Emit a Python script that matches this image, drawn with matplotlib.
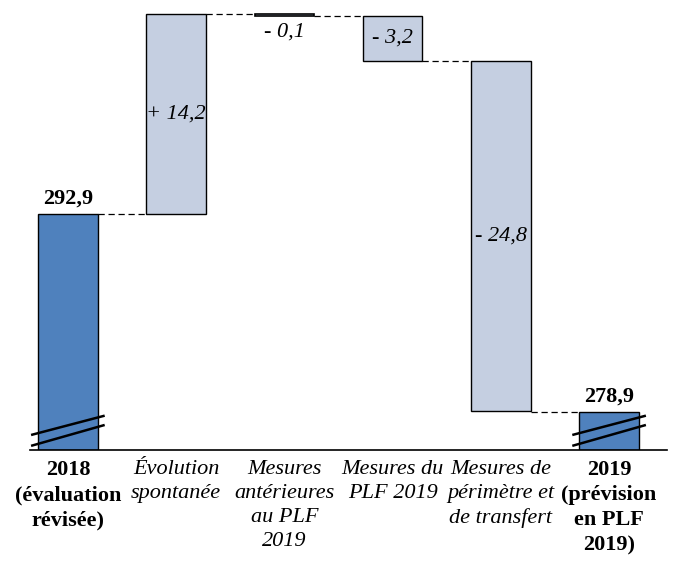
import matplotlib.pyplot as plt

categories = ["2018\n(évaluation\nrévisée)", "Évolution\nspontanée", "Mesures\nantérieures\nau PLF\n2019",
              "Mesures du\nPLF 2019", "Mesures de\npérimètre et\nde transfert", "2019\n(prévision\nen PLF\n2019)"]
start_value = 292.9
changes = [14.2, -0.1, -3.2, -24.8]
end_value = 278.9
change_labels = ["+ 14,2", "- 0,1", "- 3,2", "- 24,8"]
total_labels = ["292,9", "278,9"]

plt.rcParams['font.family'] = ['Liberation Serif', 'DejaVu Serif']

dark = "#4F81BD"
light = "#C5CFE1"
base = 276.2
w = 0.55
fs = 16

fig = plt.figure(figsize=(6.77, 5.69), dpi=100)
ax = fig.add_axes([30 / 677, 0.209, 637 / 677, 0.791])

# bars
bottoms = []
tops = []
level = start_value
ax.bar(0, start_value - base, bottom=base, width=w, color=dark, edgecolor="black", linewidth=1)
levels = [start_value]
for i, c in enumerate(changes):
    new = level + c
    lo, hi = min(level, new), max(level, new)
    lw = 1.2 if abs(c) < 1 else 1
    ax.bar(i + 1, hi - lo, bottom=lo, width=w, color=light, edgecolor="black", linewidth=lw)
    bottoms.append(lo)
    tops.append(hi)
    level = new
    levels.append(level)
ax.bar(5, end_value - base, bottom=base, width=w, color=dark, edgecolor="black", linewidth=1)
levels[-1] = end_value

# connectors
for i in range(5):
    ax.plot([i + w / 2, i + 1 - w / 2], [levels[i], levels[i]], color="black",
            linestyle=(0, (5, 3)), linewidth=0.9)

# labels
ax.text(0, start_value + 0.4, total_labels[0], ha="center", va="bottom", fontsize=fs, fontweight="bold")
ax.text(5, end_value + 0.4, total_labels[1], ha="center", va="bottom", fontsize=fs, fontweight="bold")
for i, lab in enumerate(change_labels):
    if abs(changes[i]) < 1:
        ax.text(i + 1, bottoms[i] - 0.5, lab, ha="center", va="top", fontsize=fs, style="italic")
    else:
        ax.text(i + 1, (bottoms[i] + tops[i]) / 2, lab, ha="center", va="center", fontsize=fs, style="italic")

# axis break marks
for c in [0, 5]:
    x0, x1 = c - w / 2 - 0.065, c + w / 2 + 0.065
    ax.plot([x0, x1], [277.27, 278.64], color="black", linewidth=1.8, solid_capstyle="butt", clip_on=False)
    ax.plot([x0, x1], [276.5, 277.98], color="black", linewidth=1.8, solid_capstyle="butt", clip_on=False)

ax.set_xlim(-0.35, 5.535)
ax.set_ylim(base, 308.1)
for s in ["top", "right", "left"]:
    ax.spines[s].set_visible(False)
ax.spines["bottom"].set_linewidth(1.2)
ax.set_yticks([])
ax.set_xticks(range(6))
ax.set_xticklabels(categories, fontsize=fs, linespacing=1.35)
ax.tick_params(axis="x", length=0, pad=7)
for i, t in enumerate(ax.get_xticklabels()):
    if i in (0, 5):
        t.set_fontweight("bold")
    else:
        t.set_fontstyle("italic")

fig.savefig("out.png", dpi=100)
